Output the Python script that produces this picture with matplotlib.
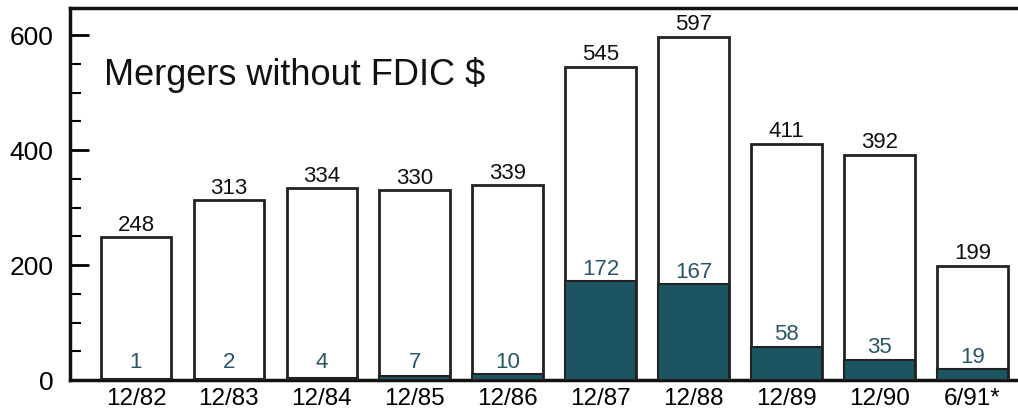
import matplotlib
matplotlib.use("Agg")
import matplotlib.pyplot as plt
from matplotlib.ticker import MultipleLocator

periods = ["12/82", "12/83", "12/84", "12/85", "12/86",
           "12/87", "12/88", "12/89", "12/90", "6/91*"]
total = [248, 313, 334, 330, 339, 545, 597, 411, 392, 199]
fdic = [1, 2, 4, 7, 10, 172, 167, 58, 35, 19]

plt.rcParams["font.family"] = ["Liberation Sans", "DejaVu Sans"]

teal = "#1c5461"
fig = plt.figure(figsize=(10.18, 4.16), dpi=100)
ax = fig.add_axes([70 / 1018, 36 / 416, 1 - 70 / 1018 + 0.01, 372 / 416])

x = range(len(periods))
ax.bar(x, total, width=0.76, color="white", edgecolor="#222222", linewidth=2, zorder=2)
ax.bar(x, fdic, width=0.76, color=teal, edgecolor="#222222", linewidth=1.5, zorder=3)

for i, (t, f) in enumerate(zip(total, fdic)):
    ax.annotate(str(t), (i, t), xytext=(0, 1), textcoords="offset points",
                ha="center", va="bottom", fontsize=16, color="#111111")
    ax.annotate(str(f), (i, max(f, 9)), xytext=(0, 1), textcoords="offset points",
                ha="center", va="bottom", fontsize=16, color="#2a5566", zorder=4)

ax.text(0.036, 0.82, "Mergers without FDIC $", transform=ax.transAxes,
        fontsize=26, color="#111111", va="center")

ax.set_xlim(-0.71, 9.6)
ax.set_ylim(0, 647)
ax.set_xticks(list(x))
ax.set_xticklabels(periods, fontsize=17.5)
ax.set_yticks([0, 200, 400, 600])
ax.yaxis.set_minor_locator(MultipleLocator(50))
ax.tick_params(axis="y", which="major", direction="in", length=14, width=2, labelsize=19, pad=12)
ax.tick_params(axis="y", which="minor", direction="in", length=8, width=1.5)
ax.tick_params(axis="x", length=0, pad=6)

for s in ["left", "bottom", "top"]:
    ax.spines[s].set_linewidth(2.5)
    ax.spines[s].set_color("#111111")
ax.spines["right"].set_visible(False)

plt.savefig("out.png", dpi=100)
